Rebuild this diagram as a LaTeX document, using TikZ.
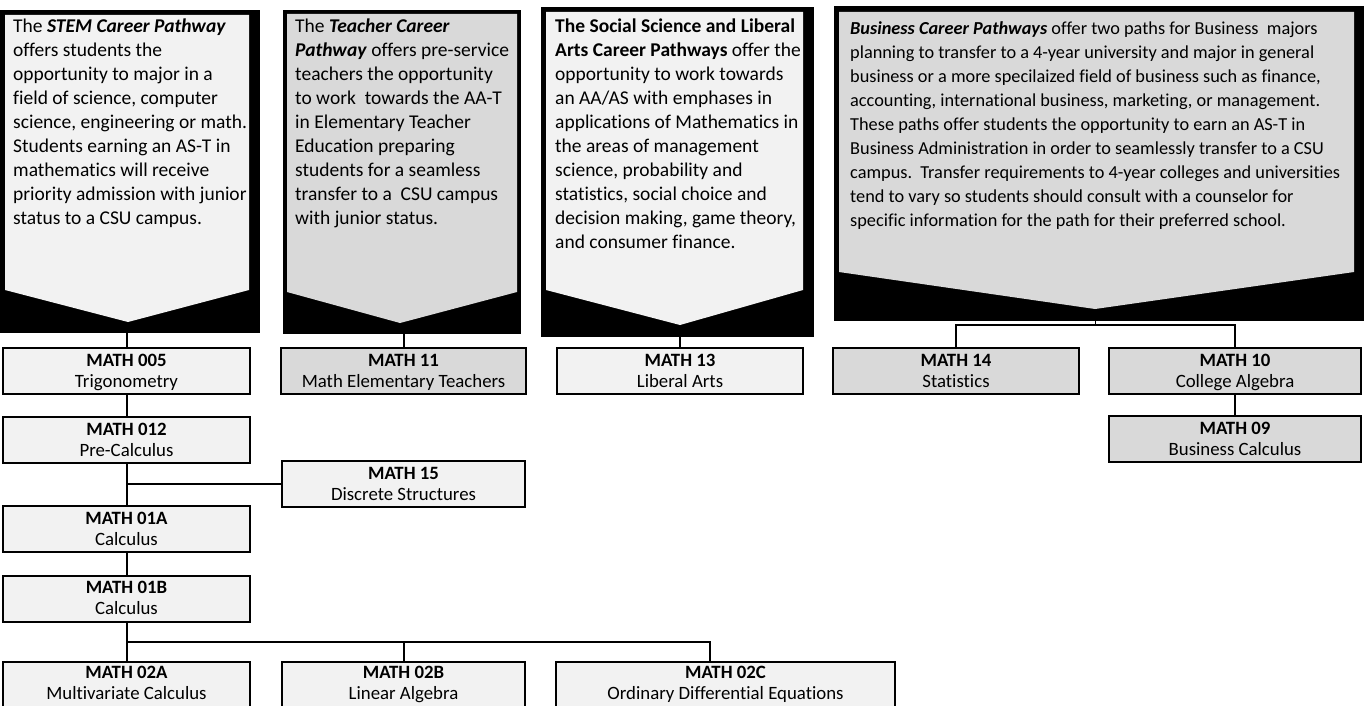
\documentclass[tikz,border=0pt]{standalone}
\usepackage{fontspec}
\setmainfont{Carlito}[Ligatures=NoCommon]
\definecolor{lightf}{HTML}{F2F2F2}
\definecolor{grayf}{HTML}{D9D9D9}
\newcommand{\crs}[2]{\rule{0pt}{18.2pt}\textbf{#1}\\#2\strut}
\newcommand{\crsb}[2]{\textbf{#1}\strut\\#2\strut}
\tikzset{
  cbox/.style={draw=black, line width=2pt, fill=lightf, minimum width=247pt, minimum height=46pt, inner sep=0pt, align=center, font=\fontsize{18.8}{21}\selectfont},
  gbox/.style={cbox, fill=grayf},
  conn/.style={line width=2pt},
  blk/.style={fill=black, inner sep=0pt, outer sep=0pt, anchor=north west},
  desc/.style={anchor=north west, inner sep=0pt, align=left, font=\fontsize{19.5}{24}\selectfont},
}
\begin{document}
\begin{tikzpicture}[x=1pt,y=-1pt]
\useasboundingbox (0,0) rectangle (1364,706);
% pathway banners
\node[blk, minimum width=260pt, minimum height=323pt] (stem) at (0,10) {};
\fill[lightf] (5,15) -- (249,15) -- (249,290) -- (128,322) -- (5,290) -- cycle;
\node[blk, minimum width=238pt, minimum height=324pt] (teach) at (283,10) {};
\fill[grayf] (287,14) -- (517,14) -- (517,292) -- (400,323) -- (287,292) -- cycle;
\node[blk, minimum width=273pt, minimum height=330pt] (soc) at (541,7) {};
\fill[lightf] (546,12) -- (803,12) -- (803,290) -- (680,325) -- (546,290) -- cycle;
\node[blk, minimum width=530pt, minimum height=315pt] (biz) at (834,6) {};
\fill[grayf] (839,12) -- (1354,12) -- (1354,272) -- (1095,309) -- (839,272) -- cycle;
% texts
\node[desc] (tstem) at (13,19) {The \textbf{\textit{STEM Career Pathway}}\\ offers students the\\ opportunity to major in a\\ field of science, computer\\ science, engineering or math.\\ Students earning an AS-T in\\ mathematics will receive\\ priority admission with junior\\ status to a CSU campus.};
\node[desc] (tteach) at (295,19) {The \textbf{\textit{Teacher Career}}\\ \textbf{\textit{Pathway}} offers pre-service\\ teachers the opportunity\\ to work\ \ towards the AA-T\\ in Elementary Teacher\\ Education preparing\\ students for a seamless\\ transfer to a\ \ CSU campus\\ with junior status.};
\node[desc] (tsoc) at (555,19) {\textbf{The Social Science and Liberal}\\ \textbf{Arts Career Pathways} offer the\\ opportunity to work towards\\ an AA/AS with emphases in\\ applications of Mathematics in\\ the areas of management\\ science, probability and\\ statistics, social choice and\\ decision making, game theory,\\ and consumer finance.};
\node[desc, font=\fontsize{18.3}{24}\selectfont] (tbiz) at (850,21) {\textbf{\textit{Business Career Pathways}} offer two paths for Business\ \ majors\\ planning to transfer to a 4-year university and major in general\\ business or a more specilaized field of business such as finance,\\ accounting, international business, marketing, or management.\\ These paths offer students the opportunity to earn an AS-T in\\ Business Administration in order to seamlessly transfer to a CSU\\ campus.\ \ Transfer requirements to 4-year colleges and universities\\ tend to vary so students should consult with a counselor for\\ specific information for the path for their preferred school.};
% course boxes
\node[cbox] (m005) at (126.5,371) {\crs{MATH 005}{Trigonometry}};
\node[gbox, minimum width=245pt] (m11) at (403.5,371) {\crs{MATH 11}{Math Elementary Teachers}};
\node[cbox, minimum width=246pt] (m13) at (680,371) {\crs{MATH 13}{Liberal Arts}};
\node[gbox, minimum width=246pt] (m14) at (956,371) {\crs{MATH 14}{Statistics}};
\node[gbox, minimum width=252pt] (m10) at (1235,371) {\crs{MATH 10}{College Algebra}};
\node[gbox, minimum width=252pt] (m09) at (1235,439) {\crs{MATH 09}{Business Calculus}};
\node[cbox] (m012) at (126.5,440) {\crs{MATH 012}{Pre-Calculus}};
\node[cbox, minimum width=243pt] (m15) at (403.5,484) {\crs{MATH 15}{Discrete Structures}};
\node[cbox] (m01a) at (126.5,529) {\crs{MATH 01A}{Calculus}};
\node[cbox] (m01b) at (126.5,598.5) {\crs{MATH 01B}{Calculus}};
\node[cbox] (m02a) at (126.5,685) {\crsb{MATH 02A}{Multivariate Calculus}};
\node[cbox, minimum width=243pt] (m02b) at (403.5,685) {\crsb{MATH 02B}{Linear Algebra}};
\node[cbox, minimum width=339pt] (m02c) at (725.5,685) {\crsb{MATH 02C}{Ordinary Differential Equations}};
% connectors
\draw[conn] (stem.south -| m005.north) -- (m005.north);
\draw[conn] (teach.south -| m11.north) -- (m11.north);
\draw[conn] (soc.south -| m13.north) -- (m13.north);
\coordinate (bj) at (1095,325);
\draw[line width=0.8pt] (biz.south -| bj) -- (bj);
\draw[conn] (m14.north) |- (bj) -| (m10.north);
\draw[conn] (m10.south) -- (m09.north);
\draw[conn] (m005.south) -- (m012.north);
\draw[conn] (m012.south) -- (m01a.north);
\draw[conn] (m012.south |- m15.west) -- (m15.west);
\draw[conn] (m01a.south) -- (m01b.north);
\draw[conn] (m01b.south) -- (m02a.north);
\coordinate (j2) at (710,642);
\draw[conn] (m02a.north |- j2) -- (j2) -- (j2 |- m02c.north);
\draw[conn] (m02b.north) -- (m02b.north |- j2);
\end{tikzpicture}
\end{document}
